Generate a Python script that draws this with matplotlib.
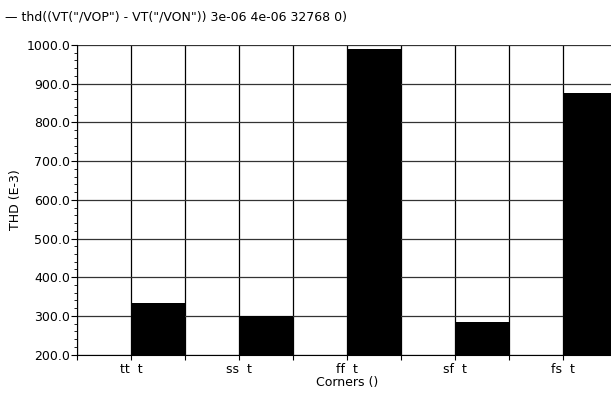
import numpy as np
import matplotlib.pyplot as plt
from matplotlib.ticker import MultipleLocator, FormatStrFormatter

corners = ['tt  t', 'ss  t', 'ff  t', 'sf  t', 'fs  t']
thd_values = [333.0, 301.0, 989.0, 283.0, 876.0]
title_text = '\u2014 thd((VT("/VOP") - VT("/VON")) 3e-06 4e-06 32768 0)'

fig = plt.figure(figsize=(6.11, 3.94), dpi=100)
ax = fig.add_axes([77 / 611, 1 - 354.6 / 394, 1 - 77 / 611 + 0.01, (354.6 - 45) / 394])

x = np.arange(len(corners))
ax.bar(x, thd_values, width=0.5, align='edge', color='black', zorder=3)

ax.set_xlim(-0.5, 4.5)
ax.set_ylim(200, 1000)

# grid: vertical every half category, horizontal every 100
for gx in np.arange(-0.5, 4.6, 0.5):
    ax.axvline(gx, color='black', lw=0.9, zorder=1)
for gy in range(200, 1001, 100):
    ax.axhline(gy, color='#333333', lw=0.9, zorder=1)

# ticks every half category, labels only at the category positions
tick_pos = np.arange(-0.5, 4.6, 0.5)
tick_labels = []
for p in tick_pos:
    if float(p).is_integer():
        tick_labels.append(corners[int(p)])
    else:
        tick_labels.append('')
ax.set_xticks(tick_pos)
ax.set_xticklabels(tick_labels)
ax.tick_params(axis='x', length=3.5, width=0.8, direction='out', labelsize=9, pad=2.5)

ax.yaxis.set_major_locator(MultipleLocator(100))
ax.yaxis.set_minor_locator(MultipleLocator(20))
ax.yaxis.set_major_formatter(FormatStrFormatter('%.1f'))
ax.tick_params(axis='y', which='major', length=4, width=0.8, labelsize=9, pad=1)
ax.tick_params(axis='y', which='minor', length=2.5, width=0.6)

for side in ['top', 'right']:
    ax.spines[side].set_visible(False)
ax.spines['left'].set_linewidth(0.8)
ax.spines['bottom'].set_linewidth(0.8)

ax.set_xlabel('Corners ()', fontsize=9, labelpad=0)
ax.set_ylabel('THD (E-3)', fontsize=9, labelpad=3)

fig.text(5 / 611, 1 - 17 / 394, title_text, fontsize=9, va='center', ha='left')

fig.savefig('out.png', dpi=100)
